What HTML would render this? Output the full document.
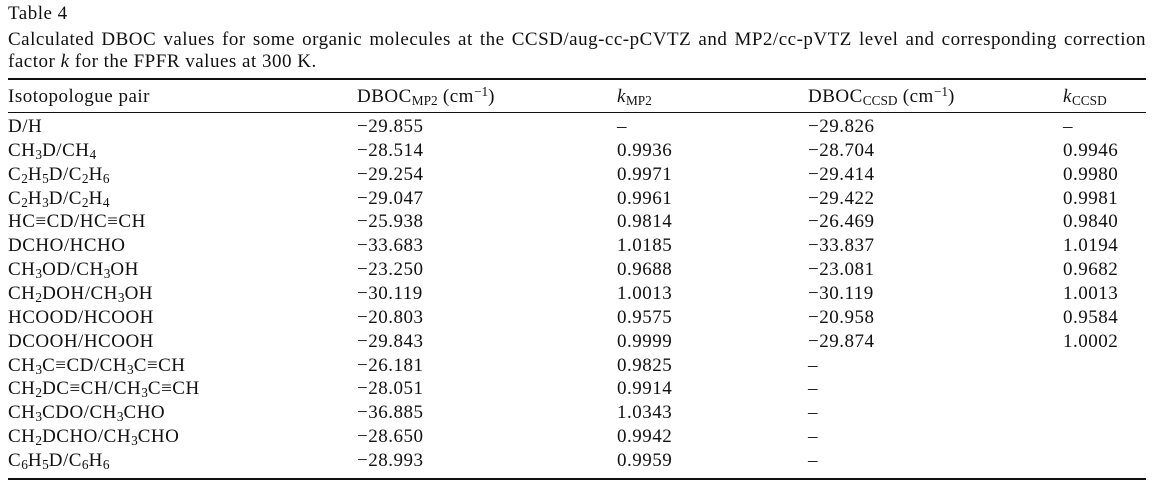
<!DOCTYPE html>
<html><head><meta charset="utf-8"><style>
body{margin:0;width:1153px;height:487px;background:#fff;font-family:"Liberation Serif",serif;font-size:19px;letter-spacing:0.5px;color:#111;position:relative;overflow:hidden}
.t{position:absolute;white-space:nowrap;line-height:20px}
.cap{position:absolute;left:8px;width:1138px;text-align:justify;text-align-last:justify;line-height:22px;white-space:nowrap}
.rule{position:absolute;left:8px;width:1138px;height:1px;background:#111}
sub{font-size:70%;vertical-align:-3px;line-height:0;letter-spacing:0}
sup{font-size:70%;vertical-align:6px;line-height:0;letter-spacing:0}
</style></head><body>
<div class="t" style="left:8px;top:4px">Table 4</div>
<div class="cap" style="top:29px">Calculated DBOC values for some organic molecules at the CCSD/aug-cc-pCVTZ and MP2/cc-pVTZ level and corresponding correction</div>
<div class="t" style="left:8px;top:52px">factor <i>k</i> for the FPFR values at 300 K.</div>
<div class="rule" style="top:78px;height:1.5px"></div>
<div class="t" style="left:8px;top:87px">Isotopologue pair</div>
<div class="t" style="left:357px;top:87px">DBOC<sub>MP2</sub> (cm<sup>−1</sup>)</div>
<div class="t" style="left:617px;top:87px"><i>k</i><sub>MP2</sub></div>
<div class="t" style="left:808px;top:87px">DBOC<sub>CCSD</sub> (cm<sup>−1</sup>)</div>
<div class="t" style="left:1063px;top:87px"><i>k</i><sub>CCSD</sub></div>
<div class="rule" style="top:112px"></div>
<div id="rows"></div>
<div class="rule" style="top:478px;height:1.5px"></div>
<script>
var d=[["D/H","−29.855","–","−29.826","–"],
["CH<sub>3</sub>D/CH<sub>4</sub>","−28.514","0.9936","−28.704","0.9946"],
["C<sub>2</sub>H<sub>5</sub>D/C<sub>2</sub>H<sub>6</sub>","−29.254","0.9971","−29.414","0.9980"],
["C<sub>2</sub>H<sub>3</sub>D/C<sub>2</sub>H<sub>4</sub>","−29.047","0.9961","−29.422","0.9981"],
["HC≡CD/HC≡CH","−25.938","0.9814","−26.469","0.9840"],
["DCHO/HCHO","−33.683","1.0185","−33.837","1.0194"],
["CH<sub>3</sub>OD/CH<sub>3</sub>OH","−23.250","0.9688","−23.081","0.9682"],
["CH<sub>2</sub>DOH/CH<sub>3</sub>OH","−30.119","1.0013","−30.119","1.0013"],
["HCOOD/HCOOH","−20.803","0.9575","−20.958","0.9584"],
["DCOOH/HCOOH","−29.843","0.9999","−29.874","1.0002"],
["CH<sub>3</sub>C≡CD/CH<sub>3</sub>C≡CH","−26.181","0.9825","–",""],
["CH<sub>2</sub>DC≡CH/CH<sub>3</sub>C≡CH","−28.051","0.9914","–",""],
["CH<sub>3</sub>CDO/CH<sub>3</sub>CHO","−36.885","1.0343","–",""],
["CH<sub>2</sub>DCHO/CH<sub>3</sub>CHO","−28.650","0.9942","–",""],
["C<sub>6</sub>H<sub>5</sub>D/C<sub>6</sub>H<sub>6</sub>","−28.993","0.9959","–",""]];
var xs=[8,357,617,808,1063],h="";
d.forEach(function(r,i){var y=117+i*23.86;r.forEach(function(c,j){h+='<div class="t" style="left:'+xs[j]+'px;top:'+y+'px">'+c+'</div>';});});
document.getElementById("rows").innerHTML=h;
</script>
</body></html>
